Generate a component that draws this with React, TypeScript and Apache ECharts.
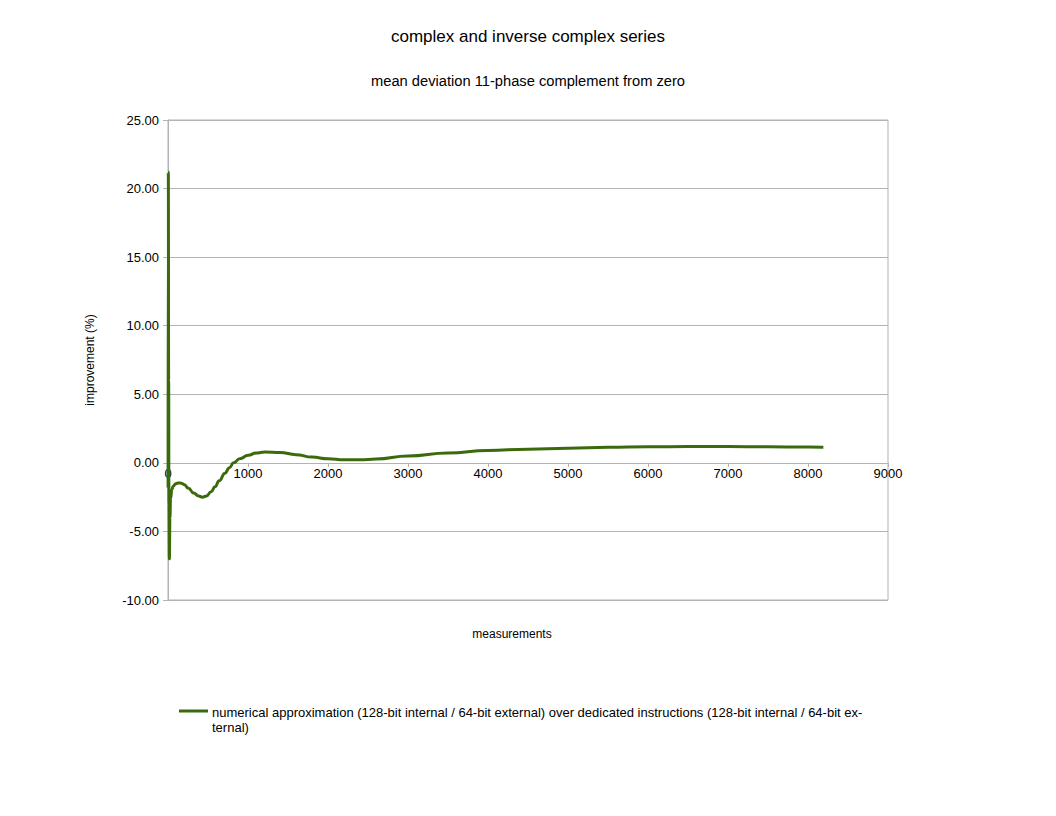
import React, { useEffect, useRef } from "react";
import * as echarts from "echarts";

const TITLE = "complex and inverse complex series";
const SUBTITLE = "mean deviation 11-phase complement from zero";
const X_NAME = "measurements";
const Y_NAME = "improvement (%)";
const SERIES_NAME =
  "numerical approximation (128-bit internal / 64-bit external) over dedicated instructions (128-bit internal / 64-bit external)";
const LEGEND_TEXT =
  "numerical approximation (128-bit internal / 64-bit external) over dedicated instructions (128-bit internal / 64-bit ex-\nternal)";

const measurements = [
  1, 4, 8, 12, 17, 24, 32, 48, 64, 96, 125, 150, 175, 200, 256, 320, 384, 430,
  480, 540, 587, 640, 712, 768, 820, 896, 1004, 1100, 1212, 1400, 1600, 1800,
  2000, 2200, 2400, 2600, 3000, 3500, 4000, 4500, 5000, 5500, 6000, 6500, 7000,
  7500, 8000, 8192,
];
const improvement = [
  -1.8, 21.2, 6.0, -3.0, -7.0, -4.0, -2.6, -1.95, -1.7, -1.52, -1.47, -1.46,
  -1.5, -1.58, -1.85, -2.2, -2.42, -2.5, -2.42, -2.1, -1.75, -1.3, -0.75,
  -0.35, 0.0, 0.3, 0.55, 0.72, 0.8, 0.76, 0.6, 0.42, 0.3, 0.22, 0.22, 0.28,
  0.5, 0.72, 0.9, 1.0, 1.07, 1.13, 1.17, 1.19, 1.19, 1.17, 1.15, 1.14,
];

const Y_MIN = -10;
const Y_MAX = 25;
const LINE_COLOR = "#3b6a0c";

export default function App() {
  const ref = useRef<HTMLDivElement>(null);
  useEffect(() => {
    if (!ref.current) return;
    const chart = echarts.init(ref.current, null, { renderer: "svg" });
    const font = "'Liberation Sans', Arial, sans-serif";
    const gridHeight = 480;
    const zeroOffset = -gridHeight * ((0 - Y_MIN) / (Y_MAX - Y_MIN));
    chart.setOption({
      animation: false,
      backgroundColor: "#ffffff",
      textStyle: { fontFamily: font, color: "#000" },
      title: [
        {
          text: TITLE,
          left: "center",
          top: 15,
          textStyle: { fontSize: 17, fontWeight: "normal", color: "#000", fontFamily: font },
        },
        {
          text: SUBTITLE,
          left: "center",
          top: 60,
          textStyle: { fontSize: 14.7, fontWeight: "normal", color: "#000", fontFamily: font },
        },
      ],
      legend: { show: false },
      grid: {
        left: 160,
        top: 112,
        width: 720,
        height: gridHeight,
        show: true,
        borderColor: "#b3b3b3",
        borderWidth: 1,
        containLabel: false,
      },
      xAxis: {
        type: "value",
        min: 0,
        max: 9000,
        interval: 1000,
        offset: zeroOffset,
        name: X_NAME,
        nameLocation: "middle",
        nameGap: 165,
        nameTextStyle: { fontSize: 12, color: "#000", fontFamily: font, padding: [0, 32, 0, 0] },
        axisLine: { onZero: false, lineStyle: { color: "#b3b3b3" } },
        axisTick: { show: true, length: 4, lineStyle: { color: "#b3b3b3" } },
        axisLabel: {
          fontSize: 13,
          color: "#000",
          margin: 4,
          fontFamily: font,
          formatter: (v: number) => String(v),
        },
        splitLine: { show: false },
      },
      yAxis: {
        type: "value",
        min: Y_MIN,
        max: Y_MAX,
        interval: 5,
        name: Y_NAME,
        nameLocation: "middle",
        nameRotate: 90,
        nameGap: 72,
        nameTextStyle: { fontSize: 12, color: "#000", fontFamily: font },
        axisLine: { show: true, onZero: false, lineStyle: { color: "#b3b3b3" } },
        axisTick: { show: true, length: 5, lineStyle: { color: "#b3b3b3" } },
        axisLabel: {
          fontSize: 13,
          color: "#000",
          margin: 9,
          fontFamily: font,
          formatter: (v: number) => v.toFixed(2),
        },
        splitLine: { show: true, lineStyle: { color: "#b3b3b3" } },
      },
      series: [
        {
          name: SERIES_NAME,
          type: "line",
          data: measurements.map((m, i) => [m, improvement[i]]),
          showSymbol: false,
          smooth: 0.5,
          smoothMonotone: "x",
          lineStyle: { color: LINE_COLOR, width: 3 },
          itemStyle: { color: LINE_COLOR },
          z: 5,
        },
      ],
      graphic: [
        {
          type: "line",
          shape: { x1: 171, y1: 703, x2: 200, y2: 703 },
          style: { stroke: LINE_COLOR, lineWidth: 3 },
        },
        {
          type: "text",
          x: 204,
          y: 697,
          style: {
            text: LEGEND_TEXT,
            font: `13px ${font}`,
            fill: "#000",
            lineHeight: 15,
          },
        },
      ],
    });
    return () => chart.dispose();
  }, []);
  return <div ref={ref} style={{ width: 1040, height: 800 }} />;
}
